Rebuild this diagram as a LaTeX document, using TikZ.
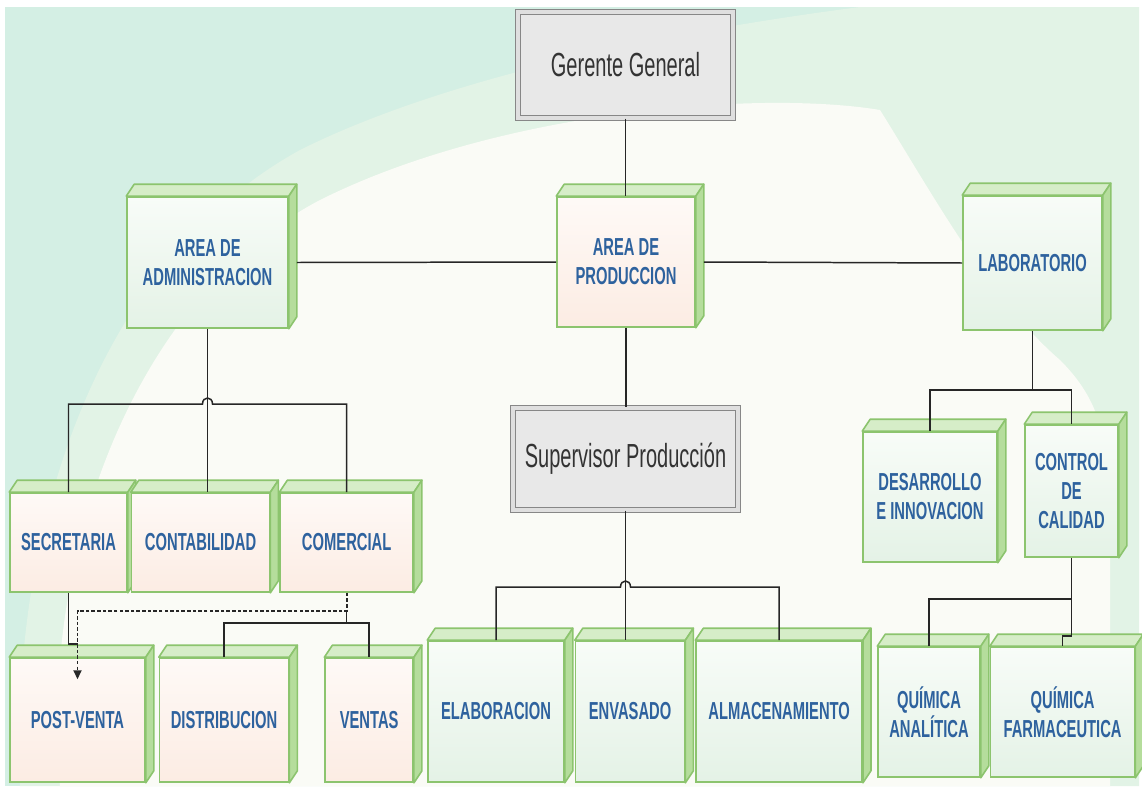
\documentclass[tikz,border=0pt]{standalone}
\usepackage{fontspec}
\newfontfamily\cajafont[FakeStretch=0.6]{Liberation Sans}
\usetikzlibrary{positioning, arrows.meta, calc}
\definecolor{verdeborde}{RGB}{140,196,110}
\definecolor{verdetecho}{RGB}{214,237,200}
\definecolor{verdelado}{RGB}{181,221,156}
\definecolor{azultexto}{RGB}{46,98,158}
\definecolor{grisjefe}{RGB}{232,232,232}
\definecolor{grisborde}{RGB}{135,135,135}
\definecolor{frenteblanco}{RGB}{248,252,248}
\definecolor{frenteverde}{RGB}{228,242,230}
\definecolor{frentemelocoton}{RGB}{252,236,227}
\definecolor{fondomenta}{RGB}{212,239,228}
\definecolor{fondoclaro}{RGB}{226,243,230}
\definecolor{fondoblanco}{RGB}{250,251,246}
\pgfdeclarelayer{fondo}
\pgfdeclarelayer{caras}
\pgfsetlayers{fondo,caras,main}
\newcommand{\pxu}{0.02cm}

\begin{document}
\begin{tikzpicture}[
    x=0.02cm, y=-0.02cm,
    jefe/.style={
      rectangle, draw=grisborde, fill=grisjefe, line width=0.6pt,
      double=gray!25, double distance=1.8pt,
      font=\cajafont\fontsize{19}{22}\selectfont, text=black!80
    },
    caja/.style 2 args={
      rectangle, draw=verdeborde, line width=0.9pt, inner sep=2pt,
      minimum width=#1*\pxu, minimum height=#2*\pxu, align=center,
      font=\cajafont\bfseries\fontsize{14}{16.5}\selectfont, text=azultexto,
      top color=frenteblanco, bottom color=frenteverde
    },
    melocoton/.style={top color=white!70!frentemelocoton, bottom color=frentemelocoton},
    techo/.style={fill=verdetecho, draw=verdeborde, line width=0.9pt, line join=round},
    lado/.style={fill=verdelado, draw=verdeborde, line width=0.9pt, line join=round},
    linea/.style={draw=black!85, line width=0.85pt},
    punteada/.style={draw=black!85, line width=1.1pt, dash pattern=on 2pt off 1.2pt,
      -{Triangle[length=5pt, width=4.5pt]}}
  ]
  \useasboundingbox (0,0) rectangle (1142,791);

  % fondo
  \begin{pgfonlayer}{fondo}
    \fill[white] (0,0) rectangle (1142,791);
    \fill[fondomenta] (5,7) rectangle (1139,786);
    \fill[fondoclaro] (20,786) .. controls (10,520) and (100,260) .. (300,150)
      .. controls (480,60) and (760,20) .. (860,7) -- (1139,7) -- (1139,786) -- cycle;
    \fill[fondoblanco] (60,786) .. controls (40,560) and (130,300) .. (320,200)
      .. controls (500,110) and (760,90) .. (880,110)
      .. controls (930,190) and (990,300) .. (1060,360)
      .. controls (1100,400) and (1110,440) .. (1110,520) -- (1110,786) -- cycle;
  \end{pgfonlayer}

  % jefes
  \node[jefe, minimum width=215*\pxu, minimum height=106*\pxu] (gerente) at (625.5,65) {Gerente General};
  \node[jefe, minimum width=225*\pxu, minimum height=102*\pxu] (superv) at (625.5,459) {Supervisor Producción};

  % areas
  \node[caja={161}{131}] (adm) at (207.5,262.5) {AREA DE\\ADMINISTRACION};
  \node[caja={138}{130}, melocoton] (prod) at (626,262) {AREA DE\\PRODUCCION};
  \node[caja={139}{134}] (lab) at (1032.5,263) {LABORATORIO};

  % administracion
  \node[caja={117}{99}, melocoton] (secr) at (68.5,542.5) {SECRETARIA};
  \node[caja={138}{99}, melocoton, right=0.06cm of secr] (cont) {CONTABILIDAD};
  \node[caja={133}{99}, melocoton, right=0.18cm of cont] (com) {COMERCIAL};
  \node[caja={135}{124}, melocoton] (post) at (77.5,720) {POST-VENTA};
  \node[caja={129}{124}, melocoton, right=0.26cm of post] (dist) {DISTRIBUCION};
  \node[caja={88}{124}, melocoton, right=0.7cm of dist] (vent) {VENTAS};

  % produccion
  \node[caja={136}{141}] (elab) at (496,711.5) {ELABORACION};
  \node[caja={109}{141}, right=0.2cm of elab] (env) {ENVASADO};
  \node[caja={166}{141}, right=0.2cm of env] (alm) {ALMACENAMIENTO};

  % laboratorio
  \node[caja={134}{130}] (des) at (930,497) {DESARROLLO\\E INNOVACION};
  \node[caja={93}{132}] (ctrl) at (1071.5,491) {CONTROL\\DE\\CALIDAD};
  \node[caja={102}{130}] (qan) at (929,712) {QUÍMICA\\ANALÍTICA};
  \node[caja={144}{130}, right=0.18cm of qan] (qfa) {QUÍMICA\\FARMACEUTICA};

  % caras de las cajas
  \begin{pgfonlayer}{caras}
    \foreach \n in {adm,prod,lab,secr,cont,com,post,dist,vent,elab,env,alm,des,ctrl,qan,qfa}{
      \filldraw[techo] (\n.north west) -- ++(8,-12) -- ([shift={(8,-12)}]\n.north east) -- (\n.north east) -- cycle;
      \filldraw[lado] (\n.north east) -- ++(8,-12) -- ([shift={(8,-12)}]\n.south east) -- (\n.south east) -- cycle;
    }
  \end{pgfonlayer}

  \coordinate (busadm) at (0,404);
  \coordinate (busprod) at (0,587);
  \coordinate (ycruce) at (0,611);
  \coordinate (buscom) at (0,623);
  \coordinate (buslab) at (0,390);
  \coordinate (busctrl) at (0,599);

  \draw[linea] (gerente.south) -- (gerente.south |- prod.north);
  \draw[linea] ([xshift=0.16cm]adm.east) -- (prod.west);
  \draw[linea] ([xshift=0.16cm]prod.east) -- (lab.west);
  \draw[linea] (prod.south) -- (prod.south |- superv.north);

  \draw[linea] (adm.south) -- (adm.south |- cont.north);
  \draw[linea] (secr.north) |- ($(adm.south |- busadm)+(-5,0)$)
    .. controls +(0,-8) and +(0,-8) .. ($(adm.south |- busadm)+(5,0)$) -| (com.north);

  \draw[linea] (secr.south) |- ($(post.north)+(0,-13)$);
  \draw[punteada] (com.south) -- (com.south |- ycruce) -| ($(post.north)+(0,22)$);
  \draw[linea] (com.south |- ycruce) -- (com.south |- buscom);
  \draw[linea] (dist.north) |- (vent.north |- buscom) -- (vent.north);

  \draw[linea] (superv.south) -- (superv.south |- env.north);
  \draw[linea] (elab.north) |- ($(superv.south |- busprod)+(-5,0)$)
    .. controls +(0,-8) and +(0,-8) .. ($(superv.south |- busprod)+(5,0)$) -| (alm.north);

  \draw[linea] (lab.south) -- (lab.south |- buslab);
  \draw[linea] (des.north) |- (ctrl.north |- buslab) -- (ctrl.north);
  \draw[linea] (qan.north) |- (ctrl.south |- busctrl);
  \draw[linea] (ctrl.south) -- ++(0,78) -| (qfa.north);
\end{tikzpicture}
\end{document}
